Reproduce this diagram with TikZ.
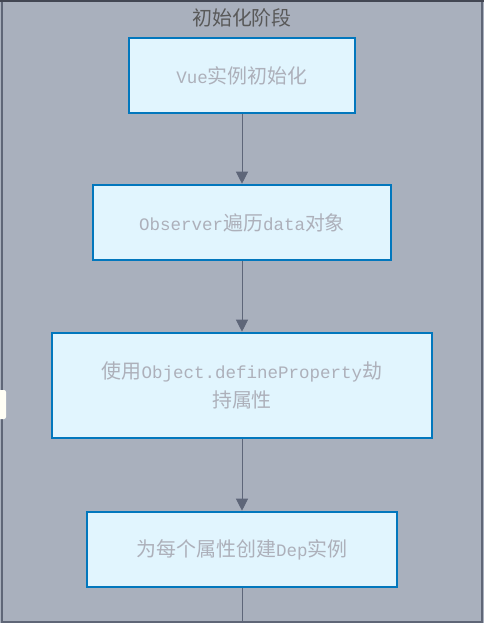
\documentclass[tikz,border=0pt]{standalone}
\usepackage{fontspec}
\setmainfont{Liberation Mono}
\newfontfamily\cjk[Scale=1.14]{Noto Sans CJK SC}
\usetikzlibrary{arrows.meta}
\definecolor{phasebg}{HTML}{A9B0BD}
\definecolor{phaseline}{HTML}{5F6677}
\definecolor{stepfill}{HTML}{E1F5FE}
\definecolor{stepline}{HTML}{0277BD}
\definecolor{steptext}{HTML}{ADB0BA}
\definecolor{flowline}{HTML}{5E6679}
\newcommand{\phasestep}[5] {\node at (#1) (#2) [rectangle, draw=stepline, line width=2.6pt, fill=stepfill, minimum width=#3, minimum height=#4, align=center, text=steptext, font=\fontsize{17.5}{29}\selectfont] {#5};}
\newcommand{\phaseflow}[2] {\draw [flowline, line width=1pt, -{Triangle[length=12pt, width=12pt]}] (#1) -- (#2);}

\begin{document}
\begin{tikzpicture}[x=1pt, y=-1pt]
\useasboundingbox (0,0) rectangle (484,623);

\fill [phasebg] (0,0) rectangle (484,623);
\draw [phaseline, line width=1.5pt] (2,1) -- (2,622) -- (482,622) -- (482,1);
\draw [phaseline!70!black, line width=2pt] (0,1) -- (484,1);
\fill [white!96!yellow, rounded corners=2pt] (-3,390) rectangle (6,419);
\node at (242,18) (phase) [text=black!65, font=\cjk\fontsize{17.5}{20}\selectfont] {初始化阶段};

\phasestep {242,75.5}{vue}{226pt}{75pt}{Vue{\cjk 实例初始化}};
\phasestep {242,222.5}{observer}{298pt}{75pt}{Observer{\cjk 遍历}data{\cjk 对象}};
\phasestep {242,385.5}{define}{380pt}{105pt}{{\cjk 使用}Object.defineProperty{\cjk 劫}\\{\cjk 持属性}};
\phasestep {242,549.5}{dep}{310pt}{75pt}{{\cjk 为每个属性创建}Dep{\cjk 实例}};
\coordinate (next) at (242,623);

\phaseflow{vue}{observer};
\phaseflow{observer}{define};
\phaseflow{define}{dep};
\draw [flowline, line width=1pt] (dep) -- (next);
\end{tikzpicture}
\end{document}
